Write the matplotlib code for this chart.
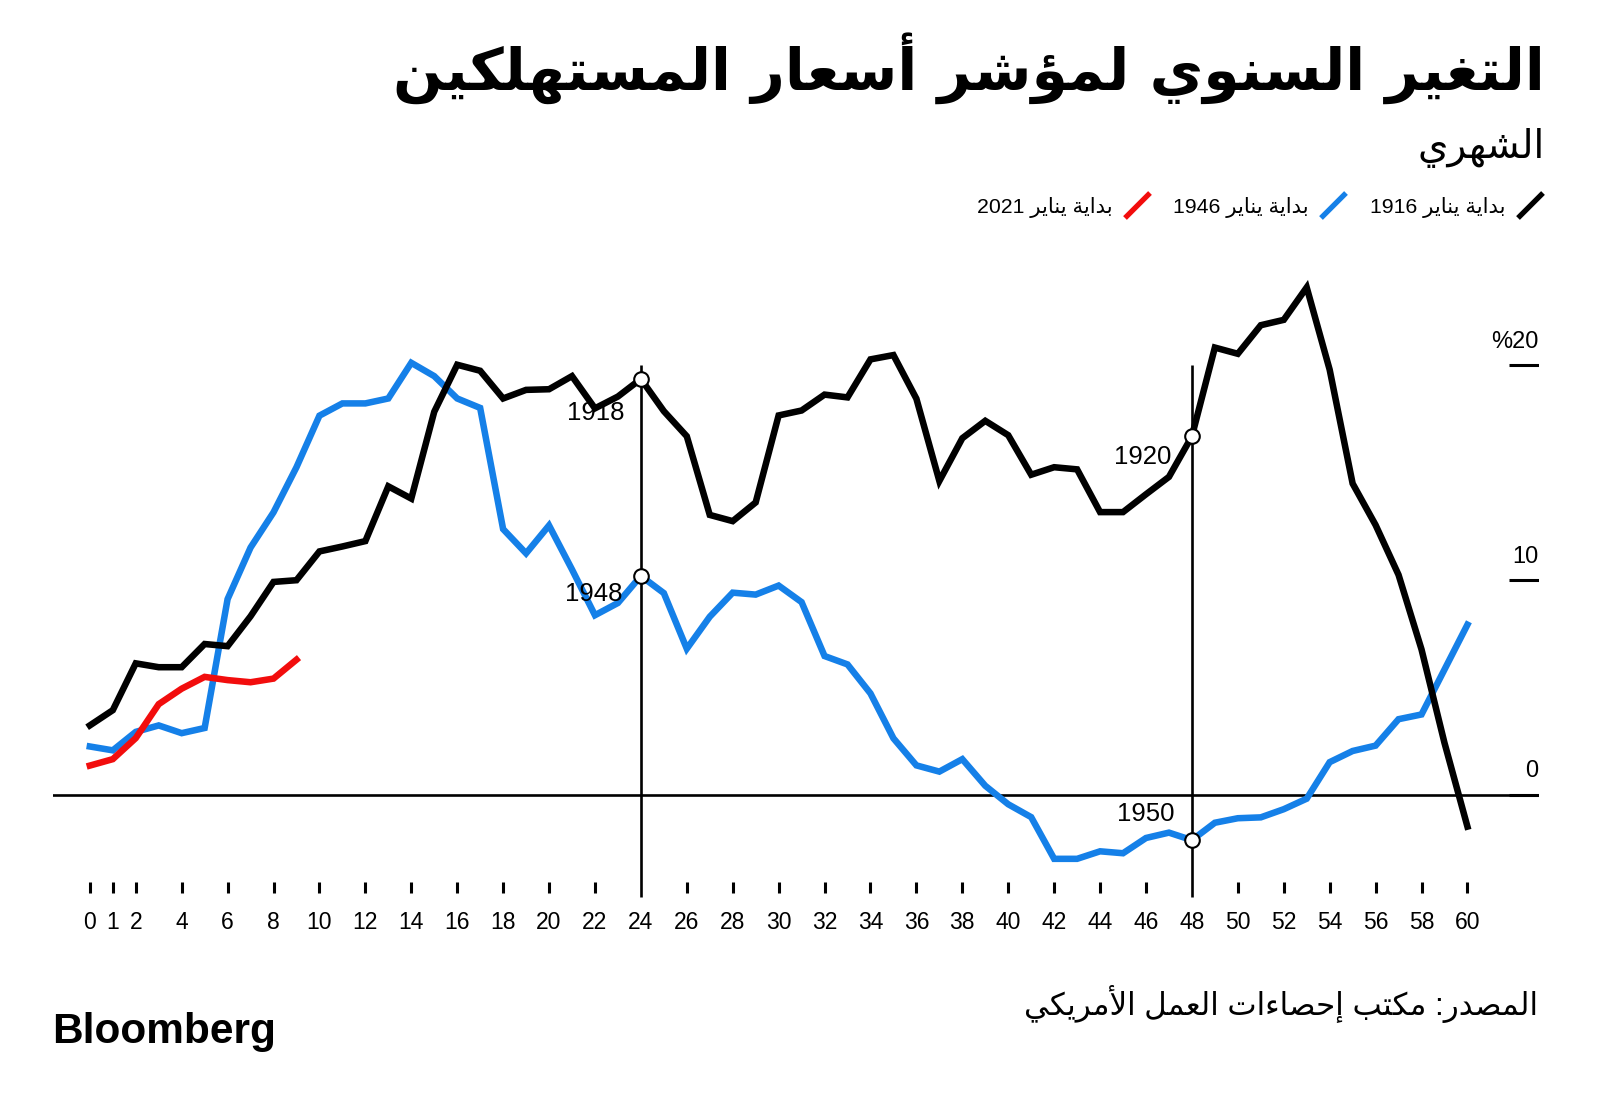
import re
import numpy as np
import matplotlib
matplotlib.use("Agg")
import matplotlib.pyplot as plt
from matplotlib.lines import Line2D

# months since start of each episode
months = list(range(61))

cpi_1916 = [3.24, 3.95, 6.13, 5.95, 5.95, 7.03, 6.93, 8.32, 9.92, 10.0,
            11.34, 11.57, 11.82, 14.37, 13.8, 17.84, 20.03, 19.75, 18.46, 18.86,
            18.89, 19.5, 18.0, 18.55, 19.37, 17.87, 16.7, 13.04, 12.75, 13.62,
            17.67, 17.9, 18.64, 18.51, 20.28, 20.48, 18.45, 14.62, 16.61, 17.42,
            16.75, 14.91, 15.26, 15.16, 13.17, 13.17, 14.0, 14.81, 16.7, 20.83,
            20.54, 21.87, 22.12, 23.63, 19.8, 14.5, 12.57, 10.25, 6.78, 2.43,
            -1.47]
cpi_1946 = [2.26, 2.08, 2.94, 3.24, 2.88, 3.12, 9.12, 11.52, 13.16, 15.26,
            17.66, 18.23, 18.23, 18.46, 20.12, 19.5, 18.46, 18.02, 12.38, 11.25,
            12.55, 10.5, 8.37, 8.94, 10.2, 9.4, 6.81, 8.3, 9.42, 9.33,
            9.75, 8.98, 6.47, 6.08, 4.73, 2.64, 1.38, 1.09, 1.67, 0.43,
            -0.43, -1.03, -2.97, -2.97, -2.62, -2.71, -2.0, -1.75, -2.1, -1.29,
            -1.08, -1.04, -0.66, -0.17, 1.53, 2.05, 2.3, 3.53, 3.75, 5.84,
            7.93]
cpi_2021 = [1.37, 1.67, 2.65, 4.23, 4.95, 5.5, 5.35, 5.25, 5.42, 6.3]

xticks = [0, 1, 2] + list(range(4, 61, 2))
yticks = [0, 10, 20]
ytick_labels = ["0", "10", "%20"]

title = "التغير السنوي لمؤشر أسعار المستهلكين"
subtitle = "الشهري"
legend_labels = ["بداية يناير 1916", "بداية يناير 1946", "بداية يناير 2021"]
source = "المصدر: مكتب إحصاءات العمل الأمريكي"

# (month, series, label, label offset x, label offset y)
marks = [(24, cpi_1916, "1918", -0.73, -1.57),
         (24, cpi_1946, "1948", -0.82, -0.86),
         (48, cpi_1916, "1920", -0.88, -0.95),
         (48, cpi_1946, "1950", -0.77, 1.21)]

BLACK = "#000000"
BLUE = "#1580e8"
RED = "#f20d0d"

# --- tiny arabic shaper (no arabic_reshaper available) ---
_forms = [("\u0621", 0xFE80, 1), ("\u0622", 0xFE81, 2), ("\u0623", 0xFE83, 2),
          ("\u0624", 0xFE85, 2), ("\u0625", 0xFE87, 2), ("\u0626", 0xFE89, 4),
          ("\u0627", 0xFE8D, 2), ("\u0628", 0xFE8F, 4), ("\u0629", 0xFE93, 2),
          ("\u062A", 0xFE95, 4), ("\u062B", 0xFE99, 4), ("\u062C", 0xFE9D, 4),
          ("\u062D", 0xFEA1, 4), ("\u062E", 0xFEA5, 4), ("\u062F", 0xFEA9, 2),
          ("\u0630", 0xFEAB, 2), ("\u0631", 0xFEAD, 2), ("\u0632", 0xFEAF, 2),
          ("\u0633", 0xFEB1, 4), ("\u0634", 0xFEB5, 4), ("\u0635", 0xFEB9, 4),
          ("\u0636", 0xFEBD, 4), ("\u0637", 0xFEC1, 4), ("\u0638", 0xFEC5, 4),
          ("\u0639", 0xFEC9, 4), ("\u063A", 0xFECD, 4), ("\u0641", 0xFED1, 4),
          ("\u0642", 0xFED5, 4), ("\u0643", 0xFED9, 4), ("\u0644", 0xFEDD, 4),
          ("\u0645", 0xFEE1, 4), ("\u0646", 0xFEE5, 4), ("\u0647", 0xFEE9, 4),
          ("\u0648", 0xFEED, 2), ("\u0649", 0xFEEF, 2), ("\u064A", 0xFEF1, 4)]
JOIN = {c: (b, n) for c, b, n in _forms}
LAMALEF = {"\u0622": 0xFEF5, "\u0623": 0xFEF7, "\u0625": 0xFEF9, "\u0627": 0xFEFB}


def ar(text):
    out = []
    i = 0
    while i < len(text):
        c = text[i]
        if c not in JOIN:
            out.append(c)
            i += 1
            continue
        prev = text[i - 1] if i > 0 else ""
        nxt = text[i + 1] if i + 1 < len(text) else ""
        link_prev = prev in JOIN and JOIN[prev][1] == 4
        if c == "\u0644" and nxt in LAMALEF:
            out.append(chr(LAMALEF[nxt] + (1 if link_prev else 0)))
            i += 2
            continue
        base, n = JOIN[c]
        link_next = n == 4 and nxt in JOIN and nxt != "\u0621"
        if n == 1:
            k = 0
        elif link_prev and link_next:
            k = 3
        elif link_prev:
            k = 1
        elif link_next:
            k = 2
        else:
            k = 0
        out.append(chr(base + k))
        i += 1
    vis = "".join(out)[::-1]
    return re.sub(r"[0-9]+", lambda m: m.group(0)[::-1], vis)


W, H = 1600, 1108
fig = plt.figure(figsize=(W / 100, H / 100), dpi=100)
FONT = ["Liberation Sans", "DejaVu Sans"]


def fx(px):
    return px / W


def fy(py):
    return 1 - py / H


ax = fig.add_axes([fx(53.1), fy(945.4), 1485.5 / W, 708.9 / H])
ax.set_xlim(-1.6, 63.1)
ax.set_ylim(-7, 26)
ax.axis("off")

# zero line and period separators
ax.axhline(0, color=BLACK, lw=1.9, zorder=2)
for m in (24, 48):
    ax.plot([m, m], [20, -4.75], color=BLACK, lw=1.9, zorder=2, solid_capstyle="butt")

# series
ax.plot(months, cpi_1946, color=BLUE, lw=4.7, zorder=3, solid_joinstyle="miter")
ax.plot(months, cpi_1916, color=BLACK, lw=4.7, zorder=4, solid_joinstyle="miter")
ax.plot(months[:len(cpi_2021)], cpi_2021, color=RED, lw=4.7, zorder=5, solid_joinstyle="miter")

# marked points
for m, s, lab, dx, dy in marks:
    ax.plot(m, s[m], "o", ms=10.5, mfc="white", mec=BLACK, mew=1.5, zorder=7)
    ax.text(m + dx, s[m] + dy, lab, ha="right", va="center", fontsize=18.5,
            family=FONT, zorder=6)

# x ticks
for t in xticks:
    if t not in (24, 48):
        ax.plot([t, t], [-4.05, -4.57], color=BLACK, lw=2.2, clip_on=False,
                solid_capstyle="butt")
    ax.text(t, -6.25, str(t), ha="center", va="baseline", fontsize=16.5,
            family=FONT, clip_on=False)

# right y labels
for v, lab in zip(yticks, ytick_labels):
    ax.plot([61.8, 63.1], [v, v], color=BLACK, lw=2.2, solid_capstyle="butt")
    ax.text(63.1, v + 1.1, lab, ha="right", va="center", fontsize=17, family=FONT)

# title block
fig.text(fx(1545), fy(90), ar(title), ha="right", va="baseline", fontsize=42,
         fontweight="bold", family="DejaVu Sans")
fig.text(fx(1545), fy(158), ar(subtitle), ha="right", va="baseline", fontsize=28,
         family="DejaVu Sans")

# legend
leg_right = [1506, 1309, 1113]
leg_colors = [BLACK, BLUE, RED]
for xr, lab, col in zip(leg_right, legend_labels, leg_colors):
    fig.add_artist(Line2D([fx(xr + 12), fx(xr + 37)], [fy(218), fy(193)],
                          transform=fig.transFigure, color=col, lw=3.8,
                          solid_capstyle="butt"))
    fig.text(fx(xr), fy(213), ar(lab), ha="right", va="baseline", fontsize=15.3,
             family=FONT)

# footer
fig.text(fx(1538), fy(1015), ar(source), ha="right", va="baseline", fontsize=22.3,
         family=FONT)
fig.text(fx(52), fy(1043), "Bloomberg", ha="left", va="baseline", fontsize=30.5,
         fontweight="bold", family="Liberation Sans")

fig.savefig("out.png", dpi=100, facecolor="white")
